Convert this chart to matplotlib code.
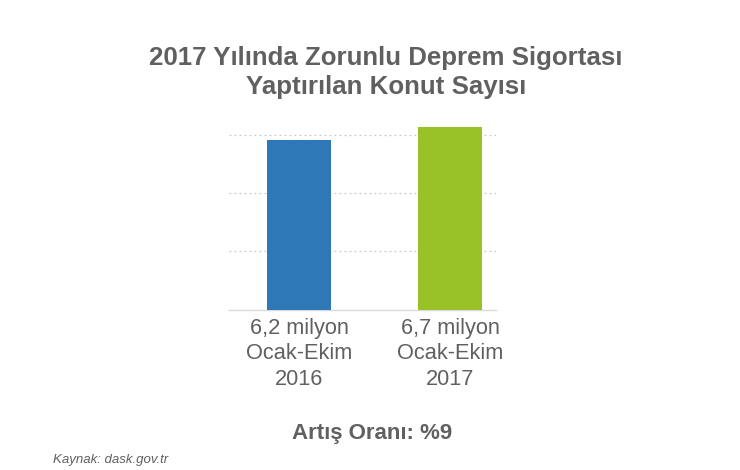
import matplotlib
matplotlib.use("Agg")
import matplotlib.pyplot as plt

categories = ["6,2 milyon\nOcak-Ekim\n2016", "6,7 milyon\nOcak-Ekim\n2017"]
values = [6.2, 6.7]
colors = ["#2E78B8", "#98C227"]
grid_values = [2.14, 4.28, 6.42]

plt.rcParams['font.family'] = ['Liberation Sans', 'DejaVu Sans']
text_color = "#606060"

W, H = 740, 470
fig = plt.figure(figsize=(W / 100, H / 100), dpi=100)
ax_left, ax_right = 229, 496
ax_bottom_px, ax_top_px = 309.5, 118
ax = fig.add_axes([ax_left / W, 1 - ax_bottom_px / H,
                   (ax_right - ax_left) / W, (ax_bottom_px - ax_top_px) / H])

x = list(range(len(values)))
ax.bar(x, values, width=0.424, color=colors, zorder=3)
ax.set_xlim(-70 / 151, 1 + 46 / 151)
px_per_unit = 169 / 6.2
ax.set_ylim(0, (ax_bottom_px - ax_top_px) / px_per_unit)
ax.set_yticks(grid_values)
ax.yaxis.grid(True, linestyle=(0, (1.5, 2.5)), color="#c8c8c8", linewidth=0.9)
ax.tick_params(axis='y', left=False, labelleft=False)
ax.set_xticks(x)
ax.set_xticklabels(categories, fontsize=15.7, color=text_color, linespacing=1.28)
ax.tick_params(axis='x', length=0, pad=6)
for s in ["top", "right", "left"]:
    ax.spines[s].set_visible(False)
ax.spines["bottom"].set_color("#d9d9d9")
ax.spines["bottom"].set_linewidth(1.0)

fig.text(386 / W, 1 - 72.5 / H, "2017 Yılında Zorunlu Deprem Sigortası\nYaptırılan Konut Sayısı",
         ha="center", va="center", fontsize=18.6, fontweight="bold", color=text_color,
         linespacing=1.3)
fig.text(372 / W, 1 - 434 / H, "Artış Oranı: %9", ha="center", va="center",
         fontsize=16, fontweight="bold", color=text_color)
fig.text(53 / W, 1 - 460 / H, "Kaynak: dask.gov.tr", ha="left", va="center",
         fontsize=9.5, style="italic", color=text_color)

fig.savefig("out.png", dpi=100, facecolor="white")
